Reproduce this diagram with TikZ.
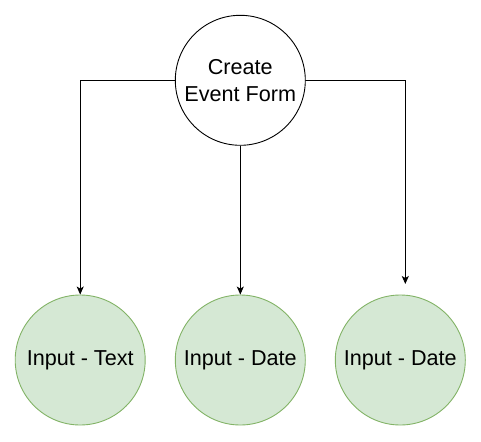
\documentclass[tikz,border=0pt]{standalone}
\usepackage{fontspec}
\setmainfont{Liberation Sans}
\usepackage{tikz}
\usetikzlibrary{arrows.meta}

\begin{document}
\begin{tikzpicture}[x=1pt,y=-1pt]
\tikzstyle{every node}=[shape=circle,minimum size=130pt,inner sep=0pt,align=center,font=\fontsize{21.6}{27}\selectfont];
\tikzstyle{form}=[draw=black,fill=white,line width=0.9pt];
\tikzstyle{input}=[draw={rgb,255:red,130;green,179;blue,102},fill={rgb,255:red,213;green,232;blue,212},line width=0.9pt];
\tikzstyle{link}=[draw=black,line width=0.9pt,-{Stealth[length=8pt,width=7pt,inset=2pt]}];
\useasboundingbox (0,0) rectangle (481,441);
\node[form] (create) at (240.3,80.3) {Create\\Event Form};
\node[input] (text) at (80.2,360) {\raisebox{-1.5pt}{Input - Text}};
\node[input] (date) at (240.3,360) {\raisebox{-1.5pt}{Input - Date}};
\node[input] (date2) at (400.3,360) {\raisebox{-1.5pt}{Input - Date}};
\coordinate (end) at (405.3,284);
\draw[link] (create.west) -| (text.north);
\draw[link] (create.south) -- (date.north);
\draw[link] (create.east) -| (end);
\end{tikzpicture}
\end{document}
